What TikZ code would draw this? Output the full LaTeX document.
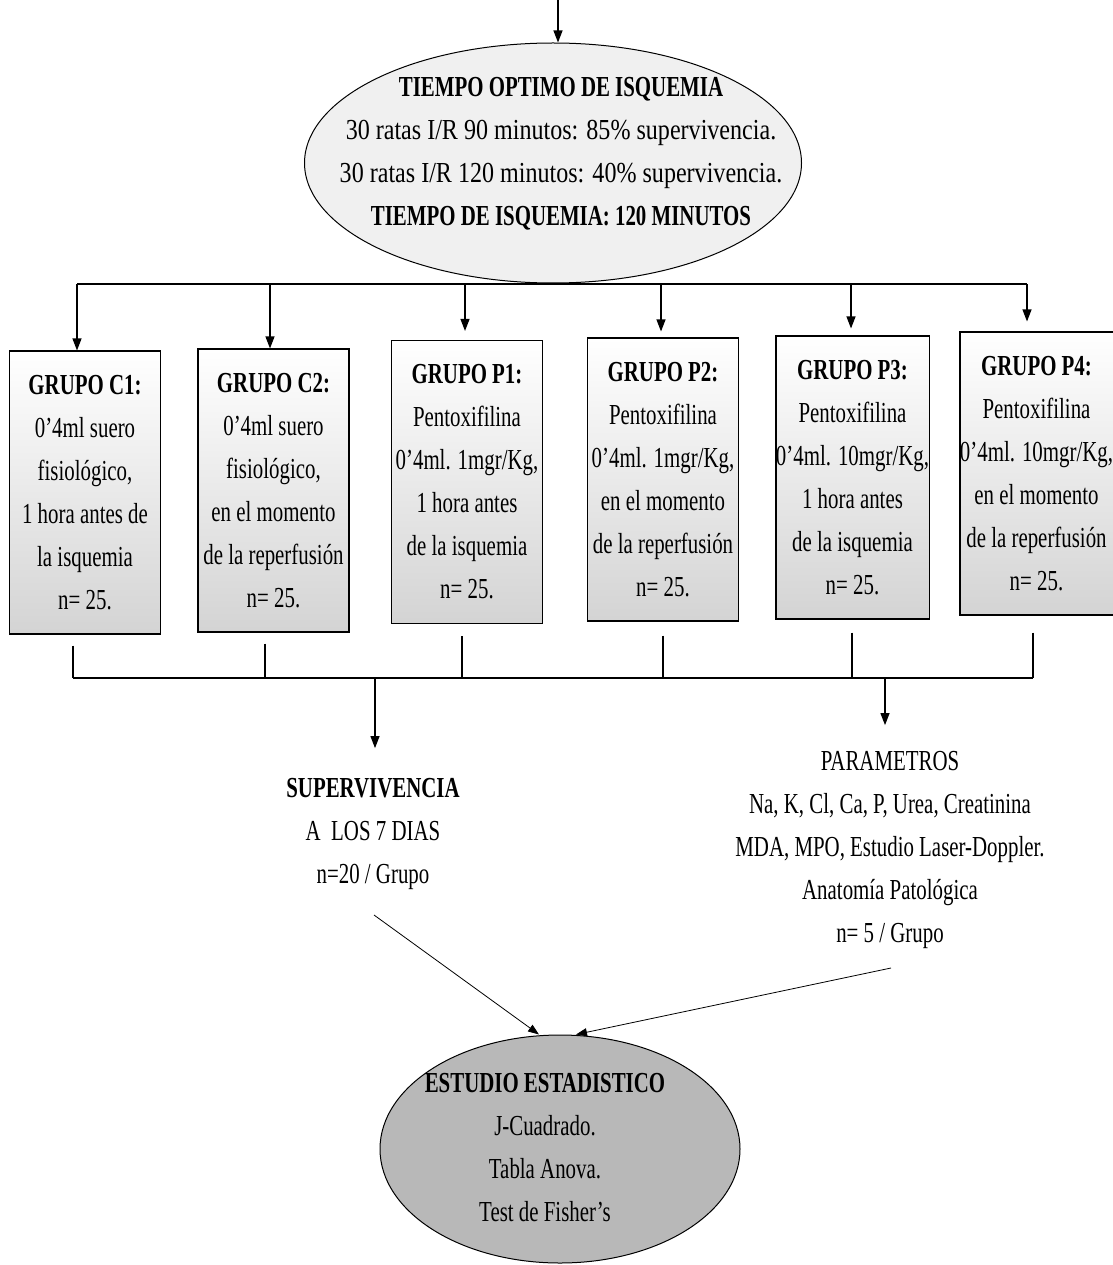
\documentclass[tikz,border=0pt]{standalone}
\usepackage{fontspec}
\setmainfont[FakeStretch=0.72]{Liberation Serif}
\newfontfamily\widerm[FakeStretch=0.83]{Liberation Serif}
\usetikzlibrary{shapes.geometric,arrows.meta}

\begin{document}
\begin{tikzpicture}[x=1pt,y=-1pt,
  txt/.style={font=\fontsize{29}{43}\selectfont, align=center, inner sep=0pt},
  grp/.style={txt, draw, rectangle, line width=1.1pt,
    minimum width=151pt, minimum height=283pt,
    top color=white, middle color=white, bottom color=black!17},
  oval/.style={draw, ellipse, inner sep=0pt, line width=1pt},
  conn/.style={line width=1.1pt},
  arr/.style={conn, -{Triangle[width=9pt,length=12pt]}},
  slant/.style={line width=0.8pt, -{Triangle[width=8pt,length=11pt]}}]

\useasboundingbox (0,0) rectangle (1112,1265);

% optimal ischaemia time
\coordinate (src) at (558,0);
\node[oval, fill=black!6, minimum width=497pt, minimum height=240pt] (tiempo) at (553,163) {};
\node[txt] (tiempoTxt) at (561,154) {\textbf{TIEMPO OPTIMO DE ISQUEMIA}\\
  {\widerm 30 ratas I/R 90 minutos: 85\% supervivencia.}\\
  {\widerm 30 ratas I/R 120 minutos: 40\% supervivencia.}\\
  \textbf{TIEMPO DE ISQUEMIA: 120 MINUTOS}};
\draw[arr] (src) -- (src |- tiempo.north);

% the six groups
\node[grp] (c1) at (85,492.5) {\textbf{GRUPO C1:}\\0'4ml suero\\fisiológico,\\1 hora antes de\\la isquemia\\n= 25.};
\node[grp] (c2) at (273.5,490.5) {\textbf{GRUPO C2:}\\0'4ml suero\\fisiológico,\\en el momento\\de la reperfusión\\n= 25.};
\node[grp] (p1) at (467,482) {\textbf{GRUPO P1:}\\Pentoxifilina\\0'4ml. 1mgr/Kg,\\1 hora antes\\de la isquemia\\n= 25.};
\node[grp] (p2) at (663,479.5) {\textbf{GRUPO P2:}\\Pentoxifilina\\0'4ml. 1mgr/Kg,\\en el momento\\de la reperfusión\\n= 25.};
\node[grp] (p3) at (852.5,477.5) {\textbf{GRUPO P3:}\\Pentoxifilina\\0'4ml. 10mgr/Kg,\\1 hora antes\\de la isquemia\\n= 25.};
\node[grp] (p4) at (1036.5,473.5) {\textbf{GRUPO P4:}\\Pentoxifilina\\0'4ml. 10mgr/Kg,\\en el momento\\de la reperfusión\\n= 25.};

% distribution bus
\coordinate (b1) at (77,284);
\coordinate (b2) at (270,284);
\coordinate (b3) at (465,284);
\coordinate (b4) at (661,284);
\coordinate (b5) at (851,284);
\coordinate (b6) at (1027,284);
\draw[conn] (b1) -- (b6);
\draw[arr] (b1) -- (b1 |- c1.north);
\draw[arr] (b2) -- (b2 |- c2.north);
\draw[arr, shorten >=9pt] (b3) -- (b3 |- p1.north);
\draw[arr, shorten >=6pt] (b4) -- (b4 |- p2.north);
\draw[arr, shorten >=7pt] (b5) -- (b5 |- p3.north);
\draw[arr, shorten >=10pt] (b6) -- (b6 |- p4.north);

% collecting bus
\coordinate (j1) at (73,678);
\coordinate (j2) at (265,678);
\coordinate (j3) at (462,678);
\coordinate (j4) at (663,678);
\coordinate (j5) at (852,678);
\coordinate (j6) at (1033,678);
\draw[conn] (j1) -- (j6);
\draw[conn] ([yshift=-11pt]c1.south -| j1) -- (j1);
\draw[conn] ([yshift=-11pt]c2.south -| j2) -- (j2);
\draw[conn] ([yshift=-12pt]p1.south -| j3) -- (j3);
\draw[conn] ([yshift=-14pt]p2.south -| j4) -- (j4);
\draw[conn] ([yshift=-13pt]p3.south -| j5) -- (j5);
\draw[conn] ([yshift=-17pt]p4.south -| j6) -- (j6);

% outcomes
\node[txt] (surv) at (373,834) {\textbf{SUPERVIVENCIA}\\A\ \ LOS 7 DIAS\\n=20 / Grupo};
\node[txt] (param) at (890,850) {PARAMETROS\\Na, K, Cl, Ca, P, Urea, Creatinina\\MDA, MPO, Estudio Laser-Doppler.\\Anatomía Patológica\\n= 5 / Grupo};
\coordinate (d1) at (375,678);
\coordinate (d2) at (885,678);
\draw[arr, shorten >=30pt] (d1) -- (d1 |- surv.north);
\draw[arr, shorten >=26pt] (d2) -- (d2 |- param.north);

% statistics
\node[oval, fill=black!28, minimum width=360pt, minimum height=228pt] (estudio) at (560,1149) {};
\node[txt] (estudioTxt) at (545,1148) {\textbf{ESTUDIO ESTADISTICO}\\J-Cuadrado.\\Tabla Anova.\\Test de Fisher's};
\coordinate (s1) at (374,915);
\coordinate (s2) at (891,968);
\draw[slant] (s1) -- ([xshift=-21pt]estudio.north);
\draw[slant] (s2) -- ([xshift=16pt]estudio.north);
\end{tikzpicture}
\end{document}
